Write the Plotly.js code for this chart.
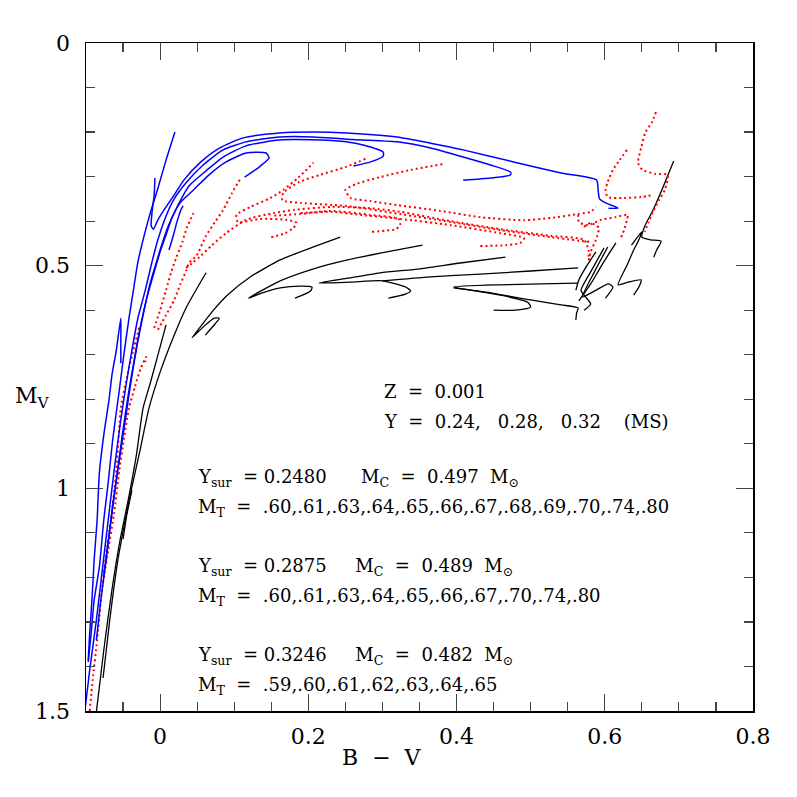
<!DOCTYPE html>
<html><head><meta charset="utf-8">
<script src="https://cdn.plot.ly/plotly-3.0.1.min.js"></script>
<style>html,body{margin:0;padding:0;background:#fff}</style>
</head><body><div id="chart" style="width:797px;height:797px"></div>
<script>
// ---- Y_sur = 0.2480 tracks (black) : B-V and M_V ----
const k1_bv = [-0.086,-0.076,-0.065,-0.054,-0.043,-0.032,-0.023,-0.014,-0.003,0.008];
const k1_mv = [1.502,1.363,1.228,1.116,1.026,0.925,0.820,0.768,0.701,0.633];
const k2_bv = [-0.077,-0.068,-0.057,-0.047,-0.039,-0.027,-0.015,0,0.018,0.035,0.062];
const k2_mv = [1.426,1.296,1.161,1.071,1.004,0.914,0.820,0.739,0.660,0.595,0.516];
const k3_bv = [-0.050,-0.045,-0.038];
const k3_mv = [1.114,1.060,1.004];
const k4_bv = [0.061,0.074,0.080,0.073,0.058,0.043,0.054,0.072,0.091,0.122,0.162,0.207,0.243];
const k4_mv = [0.656,0.631,0.618,0.618,0.638,0.662,0.638,0.600,0.566,0.525,0.487,0.458,0.436];
const k5_bv = [0.182,0.203,0.205,0.189,0.162,0.138,0.119,0.138,0.162,0.207,0.253,0.297,0.354];
const k5_mv = [0.573,0.557,0.548,0.546,0.550,0.561,0.573,0.555,0.534,0.507,0.487,0.472,0.454];
const k6_bv = [0.308,0.331,0.338,0.331,0.300,0.257,0.214,0.253,0.297,0.351,0.405,0.466];
const k6_mv = [0.573,0.564,0.557,0.548,0.534,0.537,0.539,0.528,0.516,0.507,0.494,0.481];
const k7_bv = [0.300,0.365,0.432,0.500,0.564];
const k7_mv = [0.534,0.525,0.519,0.512,0.505];
const k8_bv = [0.450,0.480,0.500,0.496,0.459,0.419,0.396,0.459,0.514,0.564];
const k8_mv = [0.600,0.600,0.593,0.582,0.566,0.555,0.548,0.543,0.541,0.539];
const k9_bv = [0.396,0.446,0.500,0.541,0.564,0.562,0.561];
const k9_mv = [0.550,0.561,0.577,0.588,0.595,0.606,0.622];
const k10_bv = [0.561,0.565,0.574,0.588];
const k10_mv = [0.555,0.532,0.505,0.469];
const k11_bv = [0.572,0.581,0.574,0.568,0.581,0.599];
const k11_mv = [0.600,0.586,0.570,0.555,0.514,0.460];
const k12_bv = [0.601,0.611,0.605,0.584,0.570,0.586,0.604];
const k12_mv = [0.573,0.548,0.541,0.559,0.570,0.514,0.458];
const k13_bv = [0.565,0.581,0.597,0.615];
const k13_mv = [0.579,0.541,0.496,0.449];
const k14_bv = [0.639,0.646,0.649,0.632,0.618,0.630,0.639,0.646,0.650,0.643,0.636];
const k14_mv = [0.566,0.548,0.532,0.537,0.543,0.499,0.465,0.442,0.424,0.438,0.454];
const k15_bv = [0.666,0.670,0.676,0.662,0.650,0.654,0.664,0.677,0.693];
const k15_mv = [0.481,0.465,0.445,0.442,0.436,0.411,0.379,0.330,0.265];

// ---- Y_sur = 0.2875 tracks (red dotted) ----
const r1_bv = [-0.095,-0.091,-0.085,-0.080,-0.073,-0.066,-0.059,-0.053,-0.045,-0.036,-0.028];
const r1_mv = [1.500,1.430,1.341,1.251,1.150,1.067,0.959,0.820,0.752,0.689,0.638];
const r2_bv = [-0.077,-0.070,-0.062,-0.055,-0.049,-0.042,-0.034,-0.026,-0.019,-0.020];
const r2_mv = [1.213,1.138,1.055,0.959,0.891,0.820,0.772,0.730,0.705,0.716];
const r3_bv = [-0.008,0,0.008,0.015,0.022,0.030,0.036,0.045];
const r3_mv = [0.640,0.600,0.555,0.514,0.481,0.447,0.415,0.382];
const r4_bv = [-0.003,0.008,0.019,0.027,0.035,0.039,0.049,0.062,0.074,0.085,0.097,0.109];
const r4_mv = [0.644,0.611,0.577,0.543,0.512,0.494,0.478,0.433,0.402,0.375,0.337,0.303];
const r5_bv = [0.035,0.045,0.053,0.070,0.089,0.116,0.153,0.180,0.230,0.284,0.324,0.392,0.459,0.527,0.572,0.578,0.578];
const r5_mv = [0.505,0.492,0.481,0.454,0.427,0.397,0.382,0.375,0.368,0.371,0.379,0.400,0.418,0.433,0.442,0.465,0.487];
const r6_bv = [0.150,0.169,0.180,0.184,0.170,0.135,0.105,0.103,0.122,0.149,0.166,0.186,0.207];
const r6_mv = [0.436,0.427,0.415,0.404,0.397,0.395,0.402,0.386,0.368,0.348,0.330,0.303,0.269];
const r7_bv = [0.277,0.251,0.216,0.188,0.166,0.165,0.189,0.251,0.324,0.392,0.459,0.527,0.581];
const r7_mv = [0.260,0.278,0.296,0.312,0.337,0.353,0.359,0.366,0.384,0.402,0.420,0.436,0.447];
const r8_bv = [0.381,0.338,0.297,0.264,0.250,0.257,0.284,0.320,0.378,0.432,0.491,0.527,0.564,0.581,0.588];
const r8_mv = [0.272,0.285,0.301,0.317,0.330,0.348,0.355,0.364,0.377,0.391,0.398,0.393,0.384,0.379,0.368];
const r9_bv = [0.432,0.466,0.486,0.491,0.459,0.392,0.324,0.270,0.230,0.189];
const r9_mv = [0.456,0.454,0.449,0.438,0.427,0.409,0.395,0.386,0.379,0.382];
const r10_bv = [0.286,0.318,0.324,0.322,0.284,0.230,0.189,0.149];
const r10_mv = [0.424,0.418,0.409,0.395,0.386,0.377,0.384,0.388];
const r11_bv = [0.669,0.664,0.655,0.649,0.645,0.651,0.669,0.685,0.681,0.673,0.665,0.659,0.654];
const r11_mv = [0.155,0.177,0.200,0.236,0.269,0.285,0.294,0.296,0.330,0.353,0.379,0.402,0.424];
const r12_bv = [0.630,0.620,0.611,0.604,0.601,0.604,0.626,0.649,0.666];
const r12_mv = [0.240,0.263,0.285,0.312,0.330,0.346,0.348,0.346,0.341];
const r13_bv = [0.622,0.626,0.630,0.631,0.615,0.595,0.577,0.565,0.564];
const r13_mv = [0.436,0.420,0.397,0.386,0.391,0.397,0.409,0.402,0.386];
const r14_bv = [0.572,0.581,0.592,0.588,0.581,0.578];
const r14_mv = [0.413,0.404,0.415,0.442,0.469,0.492];

// ---- Y_sur = 0.3246 tracks (blue) ----
const b1_bv = [-0.097,-0.093,-0.089,-0.082,-0.076,-0.070,-0.064,-0.055,-0.049,-0.042,-0.036,-0.030,-0.023,-0.014,-0.003,0.008,0.020];
const b1_mv = [1.390,1.325,1.251,1.177,1.071,0.986,0.891,0.779,0.701,0.618,0.555,0.492,0.442,0.386,0.326,0.263,0.200];
const b2_bv = [-0.103,-0.095,-0.086,-0.078,-0.070,-0.062,-0.054,-0.046,-0.038,-0.030,-0.020,-0.011,-0.003,0.007,0.018,0.035,0.058,0.085,0.116,0.161,0.207,0.251,0.320,0.365,0.409,0.446,0.473,0.473,0.446,0.409];
const b2_mv = [1.520,1.408,1.296,1.183,1.071,0.959,0.858,0.768,0.689,0.618,0.555,0.492,0.442,0.393,0.353,0.314,0.274,0.240,0.222,0.211,0.211,0.216,0.222,0.236,0.256,0.274,0.290,0.296,0.303,0.308];
const b3_bv = [-0.086,-0.080,-0.072,-0.064,-0.055,-0.047,-0.039,-0.031,-0.023,-0.014,-0.005,0.003,0.011,0.022,0.039,0.062,0.085,0.116,0.161,0.215,0.251,0.274,0.301,0.301,0.284,0.261];
const b3_mv = [1.341,1.251,1.150,1.037,0.936,0.847,0.757,0.678,0.611,0.543,0.492,0.449,0.411,0.371,0.321,0.287,0.256,0.231,0.218,0.218,0.222,0.229,0.245,0.254,0.267,0.276];
const b4_bv = [-0.076,-0.068,-0.059,-0.051,-0.043,-0.035,-0.027,-0.018,-0.008,0,0.008,0.016,0.027,0.045,0.066,0.089,0.116,0.143,0.147,0.134,0.114];
const b4_mv = [1.195,1.094,0.981,0.880,0.790,0.712,0.640,0.573,0.514,0.469,0.431,0.393,0.359,0.330,0.296,0.267,0.247,0.247,0.258,0.278,0.301];
const b5_bv = [-0.007,-0.008,-0.011,-0.012,-0.009,-0.003,0.008,0.018,0.032,0.055,0.080,0.112,0.161,0.207,0.251,0.320,0.365,0.409,0.477,0.541,0.589,0.591,0.593,0.601,0.618,0.605];
const b5_mv = [0.303,0.341,0.382,0.411,0.418,0.397,0.368,0.344,0.308,0.267,0.236,0.213,0.202,0.200,0.202,0.211,0.225,0.240,0.267,0.292,0.308,0.330,0.350,0.359,0.371,0.371];
const b6_bv = [0.012,0.018,0.023,0.028,0.031];
const b6_mv = [0.465,0.431,0.400,0.375,0.366];
const b7_bv = [-0.053,-0.053,-0.053,-0.059,-0.065,-0.069,-0.076,-0.082,-0.085,-0.089,-0.092,-0.095,-0.097];
const b7_mv = [0.719,0.667,0.618,0.689,0.746,0.802,0.880,0.966,1.071,1.161,1.251,1.325,1.386];

// ---- text ----
const tickValsX = [0, 0.2, 0.4, 0.6, 0.8];
const tickTextX = ['0', '0.2', '0.4', '0.6', '0.8'];
const tickValsY = [0, 0.5, 1, 1.5];
const tickTextY = ['0', '0.5', '1', '1.5'];

const NB = '\u00a0';
const textLines = [
  'Z' + NB+NB + '=' + NB+NB + '0.001',
  'Y' + NB+NB + '=' + NB+NB + '0.24,' + NB+NB+NB + '0.28,' + NB+NB+NB + '0.32' + NB+NB+NB+NB + '(MS)',
  'Y<sub>sur</sub>' + NB+NB + '=' + NB + '0.2480' + NB+NB+NB+NB+NB+NB + 'M<sub>C</sub>' + NB+NB + '=' + NB+NB + '0.497' + NB+NB + 'M<sub>⊙</sub>',
  'M<sub>T</sub>' + NB+NB + '=' + NB+NB + '.60,.61,.63,.64,.65,.66,.67,.68,.69,.70,.74,.80',
  'Y<sub>sur</sub>' + NB+NB + '=' + NB + '0.2875' + NB+NB+NB+NB+NB + 'M<sub>C</sub>' + NB+NB + '=' + NB+NB + '0.489' + NB+NB + 'M<sub>⊙</sub>',
  'M<sub>T</sub>' + NB+NB + '=' + NB+NB + '.60,.61,.63,.64,.65,.66,.67,.70,.74,.80',
  'Y<sub>sur</sub>' + NB+NB + '=' + NB + '0.3246' + NB+NB+NB+NB+NB + 'M<sub>C</sub>' + NB+NB + '=' + NB+NB + '0.482' + NB+NB + 'M<sub>⊙</sub>',
  'M<sub>T</sub>' + NB+NB + '=' + NB+NB + '.59,.60,.61,.62,.63,.64,.65'
];

const blackSet = [[k1_bv,k1_mv],[k2_bv,k2_mv],[k3_bv,k3_mv],[k4_bv,k4_mv],[k5_bv,k5_mv],[k6_bv,k6_mv],[k7_bv,k7_mv],[k8_bv,k8_mv],[k9_bv,k9_mv],[k10_bv,k10_mv],[k11_bv,k11_mv],[k12_bv,k12_mv],[k13_bv,k13_mv],[k14_bv,k14_mv],[k15_bv,k15_mv]];
const redSet = [[r1_bv,r1_mv],[r2_bv,r2_mv],[r3_bv,r3_mv],[r4_bv,r4_mv],[r5_bv,r5_mv],[r6_bv,r6_mv],[r7_bv,r7_mv],[r8_bv,r8_mv],[r9_bv,r9_mv],[r10_bv,r10_mv],[r11_bv,r11_mv],[r12_bv,r12_mv],[r13_bv,r13_mv],[r14_bv,r14_mv]];
const blueSet = [[b1_bv,b1_mv],[b2_bv,b2_mv],[b3_bv,b3_mv],[b4_bv,b4_mv],[b5_bv,b5_mv],[b6_bv,b6_mv],[b7_bv,b7_mv]];

const traces = [];
blackSet.forEach(([x,y]) => traces.push({x, y, type:'scatter', mode:'lines', line:{color:'#000000', width:1.3, shape:'spline', smoothing:0.6}, hoverinfo:'skip'}));
redSet.forEach(([x,y]) => traces.push({x, y, type:'scatter', mode:'lines', line:{color:'#ff0000', width:2, dash:'2px,3px', shape:'spline', smoothing:0.6}, hoverinfo:'skip'}));
blueSet.forEach(([x,y]) => traces.push({x, y, type:'scatter', mode:'lines', line:{color:'#0000ff', width:1.5, shape:'spline', smoothing:0.6}, hoverinfo:'skip'}));

const FONT = 'DejaVu Serif, Liberation Serif, serif';
const txtX = [0.444, 0.444, 0.165, 0.165, 0.165, 0.165, 0.165, 0.165];
const txtY = [0.479, 0.434, 0.349, 0.304, 0.216, 0.171, 0.082, 0.037];
const annotations = textLines.map((t,i) => ({text:t, xref:'paper', yref:'paper', x:txtX[i], y:txtY[i], xanchor:'left', yanchor:'middle', showarrow:false, font:{family:FONT, size:18, color:'#000'}}));
annotations.push({text:'M<sub>V</sub>', xref:'paper', yref:'paper', x:-0.109, y:0.469, xanchor:'left', yanchor:'middle', showarrow:false, font:{family:FONT, size:22, color:'#000'}});
annotations.push({text:'B' + NB+NB + '\u2212' + NB+NB + 'V', xref:'paper', yref:'paper', x:0.444, y:-0.069, xanchor:'center', yanchor:'middle', showarrow:false, font:{family:FONT, size:22, color:'#000'}});

const axisCommon = {
  showline:true, linecolor:'#000', linewidth:1.5, mirror:'ticks',
  ticks:'inside', ticklen:17, tickwidth:1.2, tickcolor:'#444',
  showgrid:false, zeroline:false,
  tickfont:{family:FONT, size:22, color:'#000'}
};
const layout = {
  width:797, height:797,
  margin:{l:86, r:44, t:43, b:86},
  paper_bgcolor:'#fff', plot_bgcolor:'#fff',
  showlegend:false,
  xaxis: Object.assign({}, axisCommon, {range:[-0.1,0.8], tickmode:'array', tickvals:tickValsX, ticktext:tickTextX,
    minor:{dtick:0.05, tick0:0, ticklen:9, tickwidth:1.2, tickcolor:'#444', ticks:'inside', showgrid:false}, ticklabelstandoff:5}),
  yaxis: Object.assign({}, axisCommon, {range:[1.5,0], tickmode:'array', tickvals:tickValsY, ticktext:tickTextY,
    minor:{dtick:0.1, tick0:0, ticklen:9, tickwidth:1.2, tickcolor:'#444', ticks:'inside', showgrid:false}, ticklabelstandoff:10}),
  annotations
};
Plotly.newPlot('chart', traces, layout, {displayModeBar:false, staticPlot:true});
</script>
</body></html>
